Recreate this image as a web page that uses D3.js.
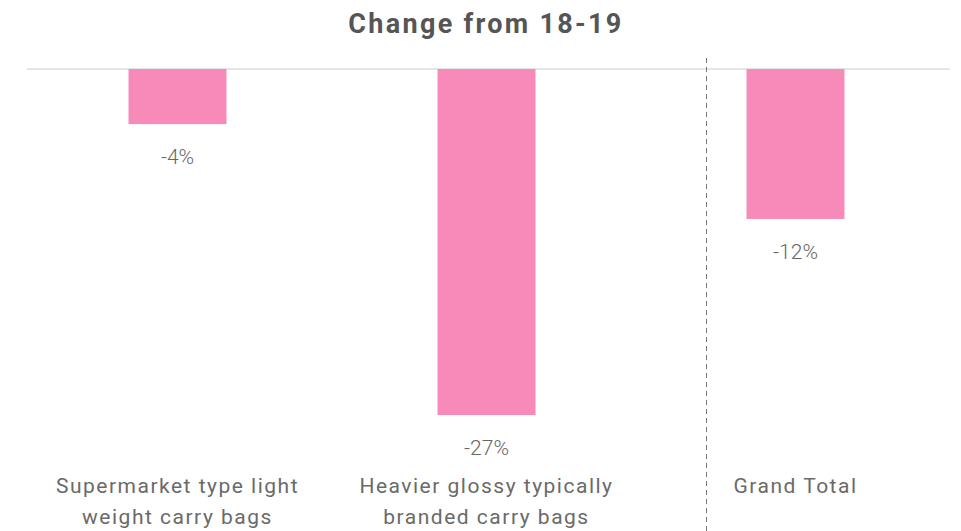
<!DOCTYPE html>
<html><head><meta charset="utf-8">
<script src="https://cdn.jsdelivr.net/npm/d3@7"></script>
<style>body{margin:0;background:#fff;} svg{display:block;}</style>
</head><body>
<svg id="chart" width="961" height="531"></svg>
<script>
const categories = [
  ["Supermarket type light", "weight carry bags"],
  ["Heavier glossy typically", "branded carry bags"],
  ["Grand Total"]
];
const categoryKeys = ["Supermarket", "Heavier", "Grand Total"];
const values = [-0.043, -0.270, -0.117];
const title = "Change from 18-19";

const svg = d3.select("#chart");
const W = 961, H = 531;
const font = "Roboto, 'Open Sans', sans-serif";

const x = d3.scaleBand().domain(categoryKeys).range([23, 950]).padding(0);
const y = d3.scaleLinear().domain([-0.27, 0]).range([415, 69]);
const barW = x.step() * 0.317;

svg.append("text").attr("x", 486).attr("y", 33).attr("text-anchor", "middle")
  .attr("font-family", font).attr("font-weight", 700).attr("font-size", 27)
  .attr("letter-spacing", 2.3)
  .attr("fill", "#555").text(title);

// baseline
svg.append("line").attr("x1", 27).attr("x2", 950).attr("y1", y(0)).attr("y2", y(0))
  .attr("stroke", "#dcdcdc").attr("stroke-width", 1.5);

// dashed separator before Grand Total
const sepX = x("Grand Total") + x.bandwidth()/2 - 89;
svg.append("line").attr("x1", sepX).attr("x2", sepX).attr("y1", 58).attr("y2", H)
  .attr("stroke", "#777").attr("stroke-width", 1).attr("stroke-dasharray", "5,4");

const g = svg.append("g");
g.selectAll("rect").data(values).join("rect")
  .attr("x", (d,i) => x(categoryKeys[i]) + x.bandwidth()/2 - barW/2)
  .attr("width", barW)
  .attr("y", y(0))
  .attr("height", d => y(d) - y(0))
  .attr("fill", "#f78ab8");

g.selectAll("text.val").data(values).join("text").attr("class","val")
  .attr("x", (d,i) => x(categoryKeys[i]) + x.bandwidth()/2)
  .attr("y", d => y(d) + 40)
  .attr("text-anchor", "middle")
  .attr("font-family", font).attr("font-weight", 300).attr("font-size", 21)
  .attr("fill", "#666")
  .text(d => d3.format(".0%")(d).replace("\u2212", "-"));

categories.forEach((lines, i) => {
  const cx = x(categoryKeys[i]) + x.bandwidth()/2;
  const t = svg.append("text")
    .attr("x", cx)
    .attr("y", 493)
    .attr("text-anchor", "middle")
    .attr("font-family", font).attr("font-weight", 400).attr("font-size", 21)
    .attr("letter-spacing", 1.5)
    .attr("fill", "#6a6a6a");
  lines.forEach((l, j) => t.append("tspan").attr("x", cx)
    .attr("dy", j === 0 ? 0 : 31).text(l));
});
</script>
</body></html>
